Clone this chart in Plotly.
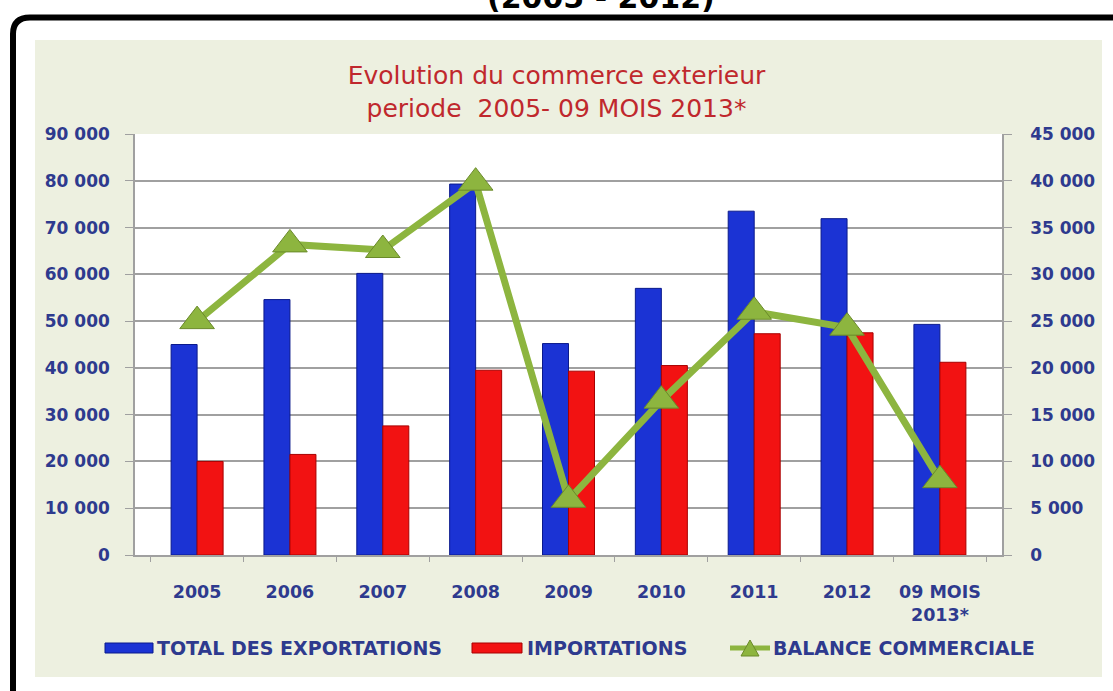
import plotly.graph_objects as go

# ---------------- data ----------------
categories = ["2005", "2006", "2007", "2008", "2009", "2010", "2011", "2012", "09 MOIS<br>2013*"]
exports = [45000, 54600, 60200, 79300, 45200, 57000, 73500, 71900, 49300]
imports = [20000, 21500, 27600, 39500, 39300, 40500, 47300, 47500, 41200]
balance = [25000, 33200, 32600, 39800, 5900, 16500, 26000, 24300, 8000]
left_ticks = list(range(0, 90001, 10000))
right_ticks = list(range(0, 45001, 5000))
series_names = ["TOTAL DES EXPORTATIONS", "IMPORTATIONS", "BALANCE COMMERCIALE"]

# ---------------- geometry helpers ----------------
W, H = 1113, 691
ML, MR, MT, MB = 135, 111, 134, 136
PW = W - ML - MR
PH = H - MT - MB


def px(x):
    return (x - ML) / PW


def py(y):
    return (H - MB - y) / PH


NAVY = "#2E3A8E"
BLUE = "#1B33D4"
RED = "#F21212"
GREEN = "#8DB53F"
GRID = "#A0A0A0"

fig = go.Figure()
fig.add_bar(x=categories, y=exports, name=series_names[0],
            marker=dict(color=BLUE, line=dict(color="#0B1A8C", width=1)))
fig.add_bar(x=categories, y=imports, name=series_names[1],
            marker=dict(color=RED, line=dict(color="#A80000", width=1)))
fig.add_scatter(x=categories, y=balance, name=series_names[2], yaxis="y2",
                mode="lines+markers",
                line=dict(color=GREEN, width=7),
                marker=dict(symbol="triangle-up", size=30, color=GREEN,
                            line=dict(color="#6A8A2A", width=1)))

ytickfont = dict(family="DejaVu Sans", size=17, color=NAVY, weight="bold")
xtickfont = dict(family="DejaVu Sans", size=17.5, color=NAVY, weight="bold")

fig.update_layout(
    width=W, height=H,
    margin=dict(l=ML, r=MR, t=MT, b=MB),
    paper_bgcolor="white",
    plot_bgcolor="rgba(0,0,0,0)",
    showlegend=False,
    barmode="group", bargap=0.44, bargroupgap=0,
    separators=". ",
    title=dict(text="Evolution du commerce exterieur<br>periode\u00a0 2005- 09 MOIS 2013*",
               x=0.5, xref="container", xanchor="center",
               y=1 - 84 / H, yref="container", yanchor="middle",
               font=dict(family="DejaVu Sans", size=25, color="#C0282D")),
    xaxis=dict(type="category", showline=True, linecolor=GRID, linewidth=1.5,
               ticks="outside", tickson="boundaries", ticklen=5, tickcolor=GRID,
               tickfont=xtickfont, tickangle=0, showgrid=False, ticklabelstandoff=20),
    yaxis=dict(range=[0, 90000], tickvals=left_ticks, tickformat=",d",
               showgrid=True, gridcolor=GRID, gridwidth=1.5,
               showline=True, linecolor=GRID, linewidth=1.5,
               ticks="outside", ticklen=8, tickcolor=GRID,
               tickfont=ytickfont, ticklabelstandoff=12, zeroline=False),
    yaxis2=dict(overlaying="y", side="right", range=[0, 45000], tickvals=right_ticks,
                tickformat=",d", showgrid=False,
                showline=True, linecolor=GRID, linewidth=1.5,
                ticks="outside", ticklen=8, tickcolor=GRID,
                tickfont=ytickfont, ticklabelstandoff=15, zeroline=False),
)

shapes = [
    # beige panel
    dict(type="rect", xref="paper", yref="paper", layer="below",
         x0=px(35), x1=px(1102), y0=py(677), y1=py(40),
         fillcolor="#EDF0E0", line=dict(width=0)),
    # white plot area
    dict(type="rect", xref="paper", yref="paper", layer="below",
         x0=0, x1=1, y0=0, y1=1, fillcolor="white", line=dict(width=0)),
    # black frame
    dict(type="path", xref="paper", yref="paper", layer="above",
         path=(f"M {px(13)},{py(720)} L {px(13)},{py(34)} "
               f"Q {px(13)},{py(17.5)} {px(30)},{py(17.5)} L {px(1140)},{py(17.5)}"),
         line=dict(color="black", width=6)),
    # legend swatches
    dict(type="rect", xref="paper", yref="paper",
         x0=px(105), x1=px(153), y0=py(653), y1=py(643),
         fillcolor=BLUE, line=dict(color="#0B1A8C", width=1)),
    dict(type="rect", xref="paper", yref="paper",
         x0=px(472), x1=px(522), y0=py(653), y1=py(643),
         fillcolor=RED, line=dict(color="#A80000", width=1)),
    dict(type="line", xref="paper", yref="paper",
         x0=px(730), x1=px(770), y0=py(648), y1=py(648),
         line=dict(color=GREEN, width=5)),
    dict(type="path", xref="paper", yref="paper",
         path=f"M {px(741)},{py(656)} L {px(750)},{py(640)} L {px(759)},{py(656)} Z",
         fillcolor=GREEN, line=dict(color="#6A8A2A", width=1)),
]
fig.update_layout(shapes=shapes)

legfont = dict(family="DejaVu Sans", size=19, color=NAVY, weight="bold")
annotations = [
    dict(text="(2005 - 2012)", xref="paper", yref="paper", x=px(601), y=py(-3),
         xanchor="center", yanchor="middle", showarrow=False,
         font=dict(family="DejaVu Sans", size=30, color="black", weight="bold")),
    dict(text=series_names[0], xref="paper", yref="paper", x=px(155), y=py(648),
         xanchor="left", yanchor="middle", showarrow=False, font=legfont),
    dict(text=series_names[1], xref="paper", yref="paper", x=px(525), y=py(648),
         xanchor="left", yanchor="middle", showarrow=False, font=legfont),
    dict(text=series_names[2], xref="paper", yref="paper", x=px(771), y=py(648),
         xanchor="left", yanchor="middle", showarrow=False, font=legfont),
]
fig.update_layout(annotations=annotations)

fig.write_html("out.html", config={"displayModeBar": False},
               post_script="document.body.style.margin='0';")
